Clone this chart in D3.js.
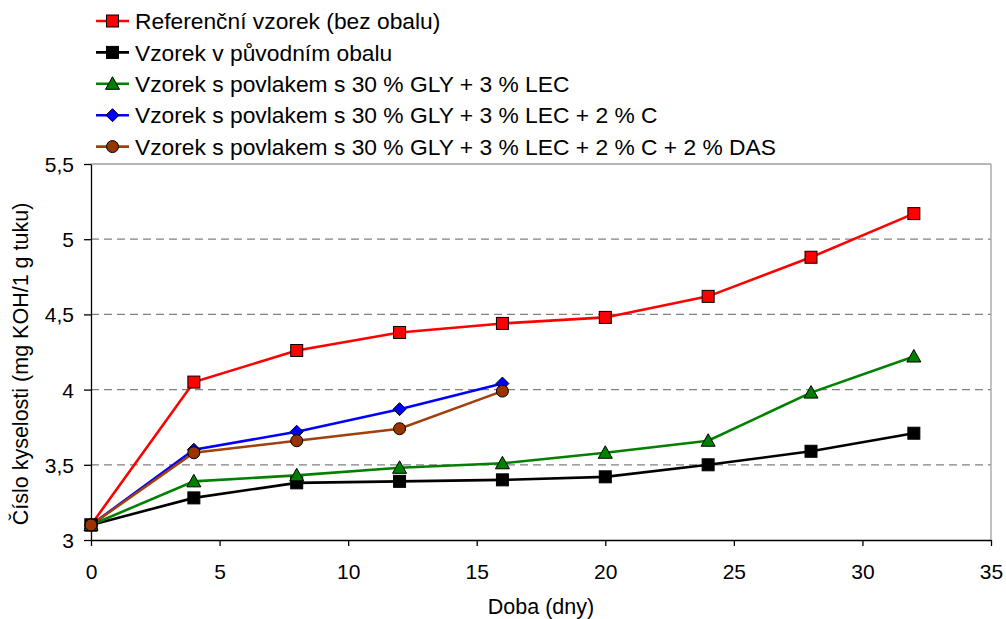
<!DOCTYPE html>
<html><head><meta charset="utf-8">
<script src="https://cdn.jsdelivr.net/npm/d3@7"></script>
<style>body{margin:0;background:#fff}svg{display:block}text{font-family:"Liberation Sans",Arial,sans-serif;fill:#000}</style>
</head><body><svg id="c" width="1006" height="619"></svg>
<script>
const days = [0, 4, 8, 12, 16, 20, 24, 28, 32];
const refValues = [3.1, 4.05, 4.26, 4.38, 4.44, 4.48, 4.62, 4.88, 5.17];
const origValues = [3.1, 3.28, 3.38, 3.39, 3.40, 3.42, 3.50, 3.59, 3.71];
const glyLecValues = [3.1, 3.39, 3.43, 3.48, 3.51, 3.58, 3.66, 3.98, 4.22];
const glyLecCValues = [3.1, 3.60, 3.72, 3.87, 4.04];
const glyLecCDasValues = [3.1, 3.58, 3.66, 3.74, 3.99];
const seriesNames = [
  "Referenční vzorek (bez obalu)",
  "Vzorek v původním obalu",
  "Vzorek s povlakem s 30 % GLY + 3 % LEC",
  "Vzorek s povlakem s 30 % GLY + 3 % LEC + 2 % C",
  "Vzorek s povlakem s 30 % GLY + 3 % LEC + 2 % C + 2 % DAS"
];
const xTicks = [0, 5, 10, 15, 20, 25, 30, 35];
const yTicks = [3, 3.5, 4, 4.5, 5, 5.5];
const xTitle = "Doba (dny)";
const yTitle = "Číslo kyselosti (mg KOH/1 g tuku)";

const series = [
  {name: seriesNames[0], values: refValues, color: "#ff0000", marker: "square", fill: "#ff0000"},
  {name: seriesNames[1], values: origValues, color: "#000000", marker: "square", fill: "#000000"},
  {name: seriesNames[2], values: glyLecValues, color: "#008000", marker: "triangle", fill: "#008000"},
  {name: seriesNames[3], values: glyLecCValues, color: "#0000ff", marker: "diamond", fill: "#0000ff"},
  {name: seriesNames[4], values: glyLecCDasValues, color: "#a0400a", marker: "circle", fill: "#993300"}
];

const svg = d3.select("#c");
const L = 91, R = 991, T = 164, B = 540;
const x = d3.scaleLinear().domain([0, 35]).range([L, R]);
const y = d3.scaleLinear().domain([3, 5.5]).range([B, T]);

svg.append("g").selectAll("line").data(yTicks.filter(v => v > 3 && v < 5.5)).join("line")
  .attr("x1", L).attr("x2", R).attr("y1", d => y(d)).attr("y2", d => y(d))
  .attr("stroke", "#808080").attr("stroke-width", 1.3).attr("stroke-dasharray", "8,5");
svg.append("line").attr("x1", L).attr("x2", R).attr("y1", y(5.5)).attr("y2", y(5.5)).attr("stroke", "#a0a0a0").attr("stroke-width", 1.3);
svg.append("line").attr("x1", R).attr("x2", R).attr("y1", T).attr("y2", B).attr("stroke", "#a0a0a0").attr("stroke-width", 1.3);

const fmt = d => String(d).replace(".", ",");
const xAxis = svg.append("g").attr("transform", `translate(0,${B})`)
  .call(d3.axisBottom(x).tickValues(xTicks).tickFormat(fmt).tickSize(6).tickSizeOuter(0));
const yAxis = svg.append("g").attr("transform", `translate(${L},0)`)
  .call(d3.axisLeft(y).tickValues(yTicks).tickFormat(fmt).tickSize(7).tickSizeOuter(0));
[xAxis, yAxis].forEach(a => {
  a.select(".domain").attr("stroke", "#000").attr("stroke-width", 1.3);
  a.selectAll(".tick line").attr("stroke", "#000").attr("stroke-width", 1.3);
  a.selectAll("text").attr("font-size", 21).attr("font-family", '"Liberation Sans",Arial,sans-serif').attr("fill", "#000");
});
xAxis.selectAll(".tick text").attr("dy", "0").attr("y", 39);
yAxis.selectAll(".tick text").attr("x", -17).attr("dy", "0.36em");

svg.append("text").attr("x", (L + R) / 2).attr("y", 614).attr("text-anchor", "middle").attr("font-size", 21.5).text(xTitle);
svg.append("text").attr("transform", `translate(28,364) rotate(-90)`).attr("text-anchor", "middle").attr("font-size", 21.5).text(yTitle);

function marker(g, type, cx, cy, fill) {
  if (type === "square") g.append("rect").attr("x", cx - 6).attr("y", cy - 6).attr("width", 12).attr("height", 12).attr("fill", fill).attr("stroke", "#000").attr("stroke-width", 1);
  else if (type === "triangle") g.append("path").attr("d", `M${cx},${cy - 7}L${cx + 7},${cy + 5.5}L${cx - 7},${cy + 5.5}Z`).attr("fill", fill).attr("stroke", "#000").attr("stroke-width", 1);
  else if (type === "diamond") g.append("path").attr("d", `M${cx},${cy - 6.5}L${cx + 6.5},${cy}L${cx},${cy + 6.5}L${cx - 6.5},${cy}Z`).attr("fill", fill).attr("stroke", "#000").attr("stroke-width", 1);
  else g.append("circle").attr("cx", cx).attr("cy", cy).attr("r", 6).attr("fill", fill).attr("stroke", "#000").attr("stroke-width", 1);
}

const line = d3.line().x((d, i) => x(days[i])).y(d => y(d));
series.forEach(s => {
  svg.append("path").attr("d", line(s.values)).attr("fill", "none").attr("stroke", s.color).attr("stroke-width", 2.6);
});
series.forEach(s => {
  const g = svg.append("g");
  s.values.forEach((v, i) => marker(g, s.marker, x(days[i]), y(v), s.fill));
});

const lg = svg.append("g");
series.forEach((s, i) => {
  const cy = 21 + i * 31.4;
  lg.append("line").attr("x1", 96).attr("x2", 129).attr("y1", cy).attr("y2", cy).attr("stroke", s.color).attr("stroke-width", 2.6);
  marker(lg, s.marker, 112.5, cy, s.fill);
  lg.append("text").attr("x", 135).attr("y", cy).attr("dy", "0.36em").attr("font-size", 22.8).text(s.name);
});
</script></body></html>
